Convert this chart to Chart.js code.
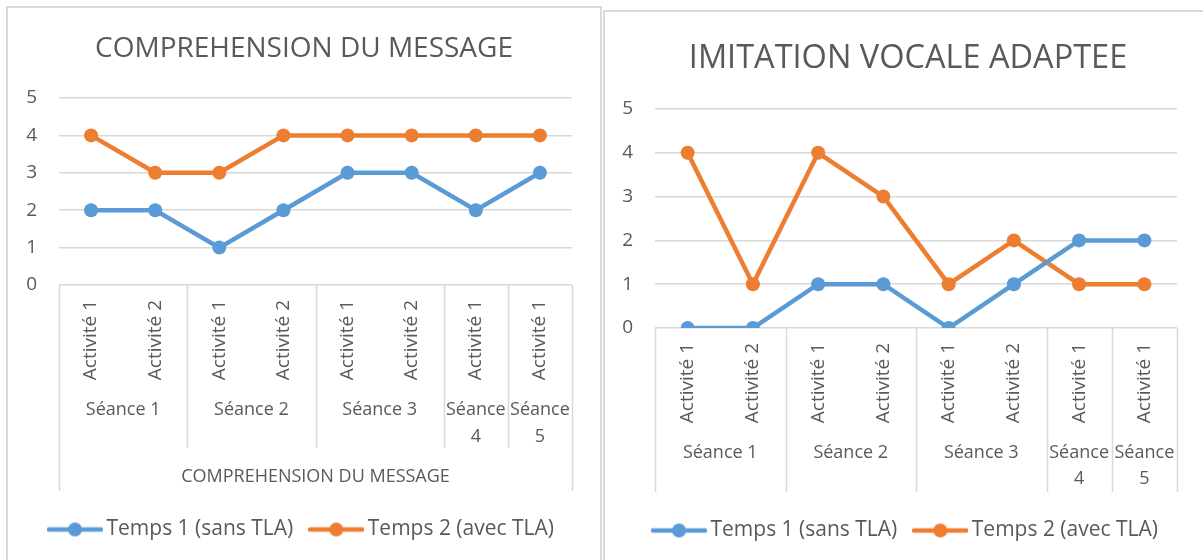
<!DOCTYPE html>
<html>
<head>
<meta charset="utf-8">
<script src="https://cdn.jsdelivr.net/npm/chart.js@4"></script>
<style>
  html, body { margin: 0; padding: 0; background: #fff; overflow: hidden; width: 1203px; height: 560px; }
  .box { position: absolute; border: 2px solid #d9d9d9; background: #fff; }
  #boxLeft { left: 6px; top: 6px; width: 592px; height: 600px; }
  #boxRight { left: 603px; top: 10px; width: 606px; height: 600px; }
  canvas { display: block; }
</style>
</head>
<body>
<div class="box" id="boxLeft"><div style="width:592px;height:552px"><canvas id="chartLeft"></canvas></div></div>
<div class="box" id="boxRight"><div style="width:606px;height:548px"><canvas id="chartRight"></canvas></div></div>
<script>
// categories (two levels) and series
const activites = ['Activité 1', 'Activité 2', 'Activité 1', 'Activité 2', 'Activité 1', 'Activité 2', 'Activité 1', 'Activité 1'];
const seances = ['Séance 1', 'Séance 2', 'Séance 3', 'Séance 4', 'Séance 5'];
const seanceSpans = [2, 2, 2, 1, 1];
const seriesNames = ['Temps 1 (sans TLA)', 'Temps 2 (avec TLA)'];
const yTicks = [0, 1, 2, 3, 4, 5];

const comprTemps1 = [2, 2, 1, 2, 3, 3, 2, 3];
const comprTemps2 = [4, 3, 3, 4, 4, 4, 4, 4];
const imitTemps1 = [0, 0, 1, 1, 0, 1, 2, 2];
const imitTemps2 = [4, 1, 4, 3, 1, 2, 1, 1];

const BLUE = '#5b9bd5';
const ORANGE = '#ed7d31';
const TEXT = '#595959';
const GRID = '#d9d9d9';
const FONT = "'Open Sans', sans-serif";

// little line + dot sample used in the legend
function legendIcon(color) {
  const c = document.createElement('canvas');
  c.width = 56; c.height = 18;
  const g = c.getContext('2d');
  g.strokeStyle = color; g.lineWidth = 4.5; g.lineCap = 'round';
  g.beginPath(); g.moveTo(2, 9); g.lineTo(54, 9); g.stroke();
  g.fillStyle = color;
  g.beginPath(); g.arc(28, 9, 7, 0, Math.PI * 2); g.fill();
  return c;
}

// second (and third) level of the category axis, like Excel's grouped labels
const groupAxis = {
  id: 'groupAxis',
  afterDraw(chart, args, opts) {
    const x = chart.scales.x;
    const ctx = chart.ctx;
    const top = chart.chartArea.bottom;
    const edges = [x.left];
    let idx = 0;
    opts.spans.forEach(n => {
      idx += n;
      edges.push(idx < x.ticks.length ? (x.getPixelForTick(idx - 1) + x.getPixelForTick(idx)) / 2 : x.right);
    });
    ctx.save();
    ctx.strokeStyle = GRID;
    ctx.lineWidth = 1.5;
    edges.forEach((ex, i) => {
      const outer = i === 0 || i === edges.length - 1;
      ctx.beginPath();
      ctx.moveTo(Math.round(ex) + 0.5, top);
      ctx.lineTo(Math.round(ex) + 0.5, outer ? opts.outerEnd : opts.innerEnd);
      ctx.stroke();
    });
    ctx.fillStyle = TEXT;
    ctx.font = '18px ' + FONT;
    ctx.textAlign = 'center';
    ctx.textBaseline = 'middle';
    opts.labels.forEach((lab, i) => {
      const cx = (edges[i] + edges[i + 1]) / 2;
      const w = edges[i + 1] - edges[i];
      const lines = ctx.measureText(lab).width > w - 2 ? lab.split(' ') : [lab];
      lines.forEach((ln, k) => ctx.fillText(ln, cx, opts.labelY + k * opts.lineGap));
    });
    if (opts.title) {
      ctx.fillText(opts.title, (x.left + x.right) / 2, opts.titleY);
    }
    ctx.restore();
  }
};

function makeChart(id, cfg) {
  return new Chart(document.getElementById(id), {
    type: 'line',
    data: {
      labels: activites,
      datasets: [
        { label: seriesNames[0], data: cfg.t1, borderColor: BLUE, backgroundColor: BLUE },
        { label: seriesNames[1], data: cfg.t2, borderColor: ORANGE, backgroundColor: ORANGE }
      ]
    },
    options: {
      responsive: true,
      maintainAspectRatio: false,
      animation: false,
      elements: {
        line: { borderWidth: 4.5, tension: 0 },
        point: { radius: 7, hoverRadius: 7, borderWidth: 0 }
      },
      layout: { padding: { left: 0, right: 0, top: 0, bottom: cfg.padBottom } },
      plugins: {
        title: {
          display: true,
          text: cfg.title,
          color: TEXT,
          font: { family: FONT, size: cfg.titleSize, weight: 'normal' },
          padding: cfg.titlePad
        },
        legend: {
          position: 'bottom',
          labels: {
            color: TEXT,
            font: { family: FONT, size: 21 },
            usePointStyle: true,
            pointStyleWidth: 42,
            boxHeight: 21,
            padding: 22,
            generateLabels(chart) {
              const items = Chart.defaults.plugins.legend.labels.generateLabels(chart);
              items.forEach(it => { it.pointStyle = legendIcon(chart.data.datasets[it.datasetIndex].borderColor); });
              return items;
            }
          }
        },
        tooltip: { enabled: false },
        groupAxis: cfg.group
      },
      scales: {
        x: {
          offset: true,
          grid: { display: false, drawTicks: false, offset: true },
          border: { display: false },
          ticks: { color: TEXT, font: { family: FONT, size: 19 }, minRotation: 90, maxRotation: 90, padding: 15, autoSkip: false },
          afterFit(s) { s.height = cfg.xHeight; }
        },
        y: {
          min: 0,
          max: 5,
          grid: { color: GRID, lineWidth: 1.5, drawTicks: false },
          border: { display: false },
          ticks: { color: TEXT, font: { family: FONT, size: 19 }, padding: 22 },
          afterBuildTicks(s) { s.ticks = yTicks.map(v => ({ value: v })); },
          afterFit(s) { s.width = cfg.yWidth; }
        },
        // empty right-hand margin of the plot area
        spacer: {
          type: 'linear',
          position: 'right',
          display: true,
          grid: { display: false, drawTicks: false },
          border: { display: false },
          ticks: { display: false },
          afterFit(s) { s.width = cfg.rightGap; }
        }
      }
    },
    plugins: [groupAxis]
  });
}

makeChart('chartLeft', {
  title: 'COMPREHENSION DU MESSAGE',
  titleSize: 28,
  titlePad: { top: 24, bottom: 32.4 },
  t1: comprTemps1,
  t2: comprTemps2,
  rightGap: 28,
  padBottom: 10,
  xHeight: 212,
  yWidth: 51,
  group: { labels: seances, spans: seanceSpans, labelY: 402, lineGap: 27, innerEnd: 440, outerEnd: 483, title: 'COMPREHENSION DU MESSAGE', titleY: 469 }
});

makeChart('chartRight', {
  title: 'IMITATION VOCALE ADAPTEE',
  titleSize: 32.5,
  titlePad: { top: 27.5, bottom: 30.5 },
  t1: imitTemps1,
  t2: imitTemps2,
  rightGap: 34,
  padBottom: 9,
  xHeight: 170,
  yWidth: 50,
  group: { labels: seances, spans: seanceSpans, labelY: 441, lineGap: 26, innerEnd: 480, outerEnd: 480, title: null, titleY: 0 }
});
</script>
</body>
</html>
